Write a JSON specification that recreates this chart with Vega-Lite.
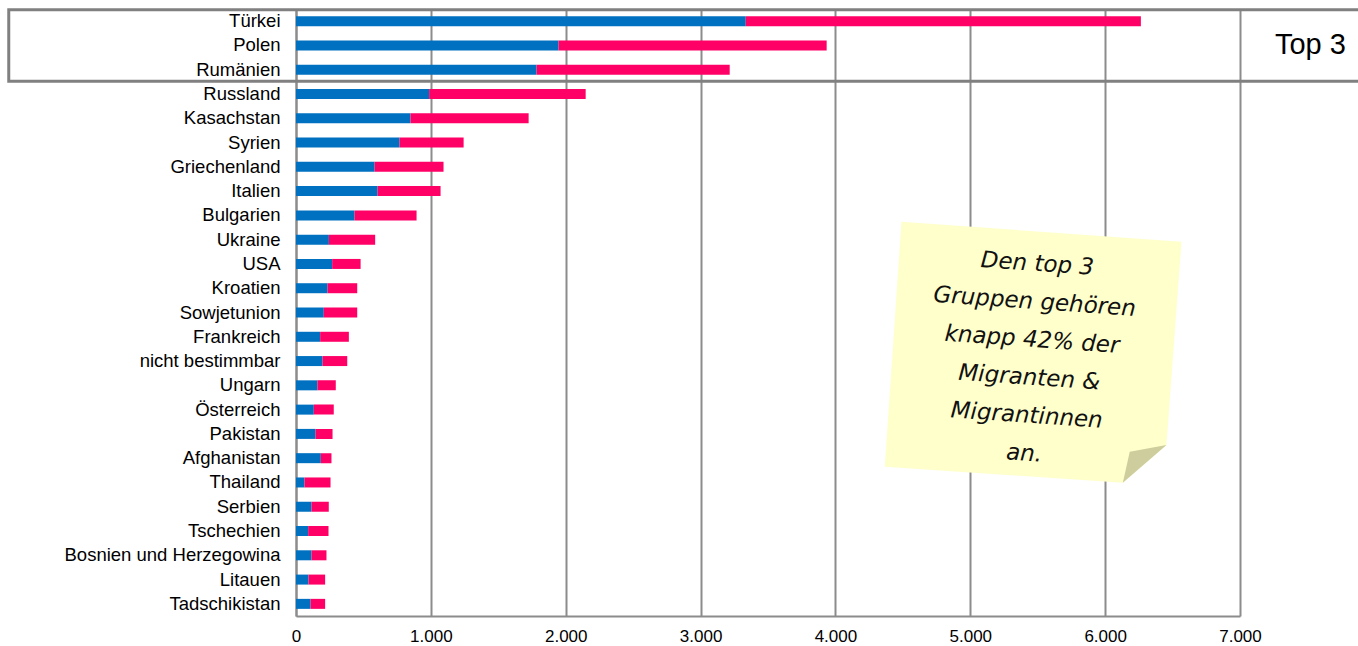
{
  "$schema": "https://vega.github.io/schema/vega-lite/v6.json",
  "width": 944,
  "height": 607,
  "autosize": {"type": "none"},
  "padding": {"left": 296, "top": 9, "right": 118, "bottom": 30},
  "background": "white",
  "config": {
    "view": {"stroke": null},
    "font": "Liberation Sans"
  },
  "datasets": {
    "laender": [
      {"land": "Türkei", "geschlecht": "männlich", "wert": 3335},
      {"land": "Türkei", "geschlecht": "weiblich", "wert": 2930},
      {"land": "Polen", "geschlecht": "männlich", "wert": 1947},
      {"land": "Polen", "geschlecht": "weiblich", "wert": 1988},
      {"land": "Rumänien", "geschlecht": "männlich", "wert": 1784},
      {"land": "Rumänien", "geschlecht": "weiblich", "wert": 1432},
      {"land": "Russland", "geschlecht": "männlich", "wert": 987},
      {"land": "Russland", "geschlecht": "weiblich", "wert": 1161},
      {"land": "Kasachstan", "geschlecht": "männlich", "wert": 849},
      {"land": "Kasachstan", "geschlecht": "weiblich", "wert": 876},
      {"land": "Syrien", "geschlecht": "männlich", "wert": 768},
      {"land": "Syrien", "geschlecht": "weiblich", "wert": 475},
      {"land": "Griechenland", "geschlecht": "männlich", "wert": 583},
      {"land": "Griechenland", "geschlecht": "weiblich", "wert": 511},
      {"land": "Italien", "geschlecht": "männlich", "wert": 605},
      {"land": "Italien", "geschlecht": "weiblich", "wert": 467},
      {"land": "Bulgarien", "geschlecht": "männlich", "wert": 434},
      {"land": "Bulgarien", "geschlecht": "weiblich", "wert": 460},
      {"land": "Ukraine", "geschlecht": "männlich", "wert": 244},
      {"land": "Ukraine", "geschlecht": "weiblich", "wert": 343},
      {"land": "USA", "geschlecht": "männlich", "wert": 268},
      {"land": "USA", "geschlecht": "weiblich", "wert": 211},
      {"land": "Kroatien", "geschlecht": "männlich", "wert": 234},
      {"land": "Kroatien", "geschlecht": "weiblich", "wert": 220},
      {"land": "Sowjetunion", "geschlecht": "männlich", "wert": 206},
      {"land": "Sowjetunion", "geschlecht": "weiblich", "wert": 248},
      {"land": "Frankreich", "geschlecht": "männlich", "wert": 179},
      {"land": "Frankreich", "geschlecht": "weiblich", "wert": 213},
      {"land": "nicht bestimmbar", "geschlecht": "männlich", "wert": 197},
      {"land": "nicht bestimmbar", "geschlecht": "weiblich", "wert": 183},
      {"land": "Ungarn", "geschlecht": "männlich", "wert": 159},
      {"land": "Ungarn", "geschlecht": "weiblich", "wert": 136},
      {"land": "Österreich", "geschlecht": "männlich", "wert": 132},
      {"land": "Österreich", "geschlecht": "weiblich", "wert": 148},
      {"land": "Pakistan", "geschlecht": "männlich", "wert": 145},
      {"land": "Pakistan", "geschlecht": "weiblich", "wert": 126},
      {"land": "Afghanistan", "geschlecht": "männlich", "wert": 184},
      {"land": "Afghanistan", "geschlecht": "weiblich", "wert": 79},
      {"land": "Thailand", "geschlecht": "männlich", "wert": 63},
      {"land": "Thailand", "geschlecht": "weiblich", "wert": 193},
      {"land": "Serbien", "geschlecht": "männlich", "wert": 115},
      {"land": "Serbien", "geschlecht": "weiblich", "wert": 128},
      {"land": "Tschechien", "geschlecht": "männlich", "wert": 90},
      {"land": "Tschechien", "geschlecht": "weiblich", "wert": 151},
      {"land": "Bosnien und Herzegowina", "geschlecht": "männlich", "wert": 115},
      {"land": "Bosnien und Herzegowina", "geschlecht": "weiblich", "wert": 111},
      {"land": "Litauen", "geschlecht": "männlich", "wert": 93},
      {"land": "Litauen", "geschlecht": "weiblich", "wert": 123},
      {"land": "Tadschikistan", "geschlecht": "männlich", "wert": 108},
      {"land": "Tadschikistan", "geschlecht": "weiblich", "wert": 108}
    ],
    "eins": [{"id": 1}]
  },
  "layer": [
    {
      "data": {"name": "laender"},
      "mark": {"type": "bar", "size": 10},
      "encoding": {
        "y": {
          "field": "land",
          "type": "nominal",
          "scale": {
            "domain": ["Türkei", "Polen", "Rumänien", "Russland", "Kasachstan", "Syrien", "Griechenland", "Italien", "Bulgarien", "Ukraine", "USA", "Kroatien", "Sowjetunion", "Frankreich", "nicht bestimmbar", "Ungarn", "Österreich", "Pakistan", "Afghanistan", "Thailand", "Serbien", "Tschechien", "Bosnien und Herzegowina", "Litauen", "Tadschikistan"],
            "paddingInner": 0,
            "paddingOuter": 0
          },
          "axis": {
            "title": null,
            "ticks": false,
            "domain": true,
            "domainColor": "#8c8c8c",
            "domainWidth": 2,
            "labelFontSize": 18.5,
            "labelColor": "#000000",
            "labelFont": "Liberation Sans",
            "labelPadding": 16,
            "labelLimit": 400
          }
        },
        "x": {
          "field": "wert",
          "type": "quantitative",
          "stack": "zero",
          "scale": {"domain": [0, 7000], "nice": false},
          "axis": {
            "title": null,
            "values": [0, 1000, 2000, 3000, 4000, 5000, 6000, 7000],
            "grid": true,
            "gridColor": "#8c8c8c",
            "gridWidth": 2,
            "ticks": false,
            "domain": true,
            "domainColor": "#8c8c8c",
            "domainWidth": 2,
            "labelFontSize": 17,
            "labelColor": "#000000",
            "labelFont": "Liberation Sans",
            "labelPadding": 12,
            "labelFlush": false,
            "labelOverlap": false,
            "labelExpr": "replace(format(datum.value, ','), ',', '.')"
          }
        },
        "color": {
          "field": "geschlecht",
          "type": "nominal",
          "scale": {"domain": ["männlich", "weiblich"], "range": ["#0070C0", "#FF0066"]},
          "legend": null
        },
        "order": {"field": "geschlecht", "sort": "ascending"}
      }
    },
    {
      "data": {"name": "eins"},
      "mark": {"type": "bar", "size": 71.5, "fill": "transparent", "stroke": "#808080", "strokeWidth": 3},
      "encoding": {
        "y": {"datum": "Polen", "type": "nominal"},
        "x": {"datum": -2130, "type": "quantitative"},
        "x2": {"datum": 8200}
      }
    },
    {
      "data": {"name": "eins"},
      "mark": {"type": "text", "text": "Top 3", "fontSize": 29, "font": "Liberation Sans", "color": "#000000", "align": "center", "baseline": "middle"},
      "encoding": {
        "y": {"datum": "Polen", "type": "nominal"},
        "x": {"datum": 7522, "type": "quantitative"}
      }
    },
    {
      "data": {"name": "eins"},
      "mark": {
        "type": "point",
        "shape": "M-0.869,-0.929L0.998,-0.795L0.898,0.56L0.607,0.811L-0.98,0.705Z",
        "size": 90000,
        "filled": true,
        "fill": "#FFFFCC",
        "opacity": 1,
        "strokeWidth": 0
      },
      "encoding": {
        "y": {"datum": "nicht bestimmbar", "type": "nominal"},
        "x": {"datum": 5456, "type": "quantitative"}
      }
    },
    {
      "data": {"name": "eins"},
      "mark": {
        "type": "point",
        "shape": "M0.898,0.56L0.607,0.811L0.653,0.605Z",
        "size": 90000,
        "filled": true,
        "fill": "#CDCD9E",
        "opacity": 1,
        "strokeWidth": 0
      },
      "encoding": {
        "y": {"datum": "nicht bestimmbar", "type": "nominal"},
        "x": {"datum": 5456, "type": "quantitative"}
      }
    },
    {
      "data": {"name": "eins"},
      "mark": {
        "type": "text",
        "text": ["Den top 3", "Gruppen gehören", "knapp 42% der", "Migranten &", "Migrantinnen", "an."],
        "font": "DejaVu Sans",
        "fontStyle": "italic",
        "fontSize": 23,
        "lineHeight": 38,
        "angle": 4,
        "align": "center",
        "baseline": "middle",
        "color": "#111111"
      },
      "encoding": {
        "y": {"datum": "USA", "type": "nominal"},
        "x": {"datum": 5497, "type": "quantitative"}
      }
    }
  ]
}
